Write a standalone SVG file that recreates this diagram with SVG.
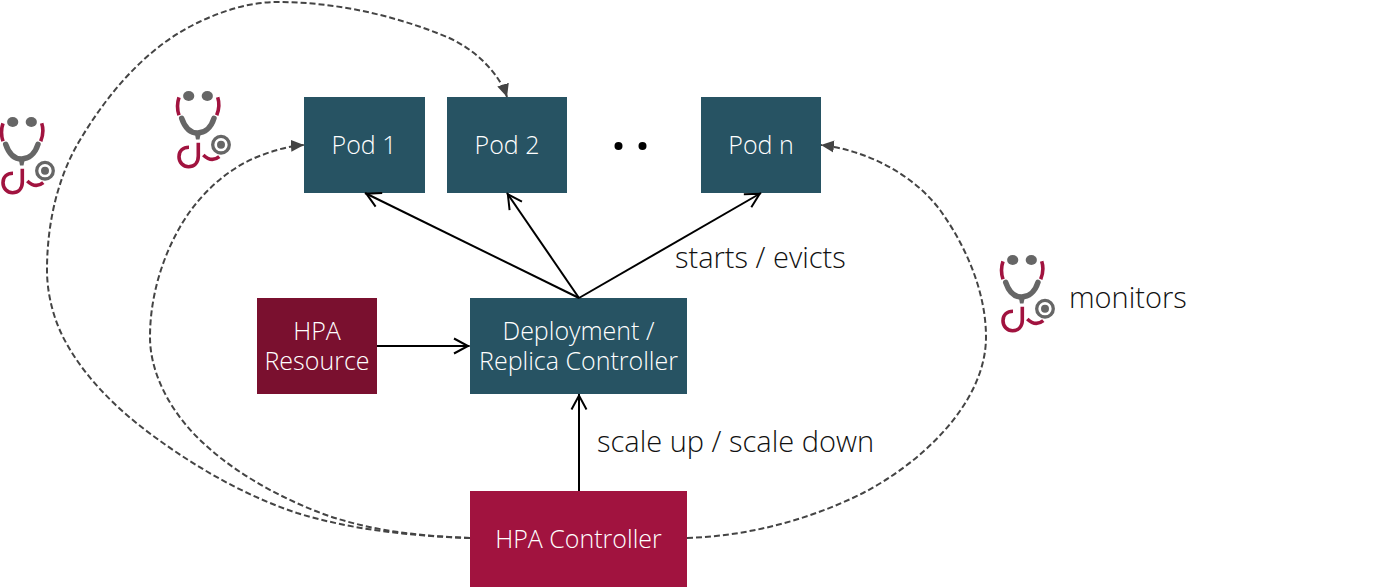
<svg xmlns="http://www.w3.org/2000/svg" width="1383" height="587" viewBox="0 0 1383 587">
<style>
.box text{font-family:"Open Sans","Noto Sans",sans-serif;font-weight:300;font-size:25px;fill:#fff;text-anchor:middle}
.teal{fill:#275363}
.lbl{font-family:"Open Sans","Noto Sans",sans-serif;font-weight:300;font-size:29px;fill:#111}
.dash{fill:none;stroke:#444;stroke-width:2;stroke-dasharray:6 3}
.sol{fill:none;stroke:#000;stroke-width:2}
.r{fill:none;stroke:#a1133f;stroke-width:3.600}
.g{fill:none;stroke:#666}
</style>
<defs>
<marker id="tri" markerUnits="userSpaceOnUse" markerWidth="14" markerHeight="14" refX="13" refY="7" orient="auto"><path d="M0 1L13 7L0 13Z" fill="#444"/></marker>
<marker id="open" markerUnits="userSpaceOnUse" markerWidth="20" markerHeight="20" refX="17.500" refY="10" orient="auto"><path d="M2 2.500L16 10L2 17.500" fill="none" stroke="#000" stroke-width="2"/></marker>
<g id="steth">
<ellipse cx="12.700" cy="4" rx="5.600" ry="5" fill="#666"/><ellipse cx="31.300" cy="4" rx="5.600" ry="5" fill="#666"/>
<path class="r" d="M3 5.300Q0 14 3 23.300M41.700 5.300Q44.500 14 40.700 23.300"/>
<path class="g" stroke-width="5.500" stroke-linecap="round" d="M5.700 26.300C9 36 15 41 21.700 41C28.500 41 35 36 38 26.300"/>
<path d="M18.300 39H25.300L23.500 47.500H20Z" fill="#666"/>
<path class="r" d="M22.300 50.700V64C22.300 71 18 74.700 12.500 74.700C7 74.700 3 70 3 64.700C3 59 7 55.300 13 55.300"/>
<path class="r" d="M27.300 63Q35.500 71 43.300 64.700"/>
<circle cx="45" cy="52.700" r="8.300" fill="none" stroke="#666" stroke-width="3.300"/><circle cx="45" cy="52.700" r="4" fill="#666"/>
</g>
</defs>
<g id="icon-1"><use href="#steth" x="0" y="118"/></g>
<g id="icon-2"><use href="#steth" x="176" y="92"/></g>
<g id="icon-3"><use href="#steth" x="1000" y="256"/></g>
<g id="pod-1" class="box"><rect class="teal" x="304" y="97" width="121" height="96"/><text x="364" y="154">Pod 1</text></g>
<g id="pod-2" class="box"><rect class="teal" x="447" y="97" width="120" height="96"/><text x="507" y="154">Pod 2</text></g>
<g id="pod-n" class="box"><rect class="teal" x="701" y="97" width="120" height="96"/><text x="761" y="154">Pod n</text></g>
<g id="hpa-resource" class="box"><rect x="257" y="298" width="120" height="96" fill="#7a102f"/><text x="317" y="340">HPA<tspan x="317" dy="30">Resource</tspan></text></g>
<g id="deployment" class="box"><rect class="teal" x="470" y="298" width="217" height="96"/><text x="578.500" y="340">Deployment /<tspan x="578.500" dy="30">Replica Controller</tspan></text></g>
<g id="hpa-controller" class="box"><rect x="470" y="491" width="217" height="96" fill="#a1133f"/><text x="578.500" y="548">HPA Controller</text></g>
<g id="connectors">
<path class="sol" marker-end="url(#open)" d="M579 298L365 193"/>
<path class="sol" marker-end="url(#open)" d="M579 298L507 193"/>
<path class="sol" marker-end="url(#open)" d="M579 298L761 193"/>
<path class="sol" marker-end="url(#open)" d="M377 346H469.500"/>
<path class="sol" marker-end="url(#open)" d="M579 491V394"/>
<path class="dash" marker-end="url(#tri)" d="M470 538C412 536 352 530 297 513C249 497 204 472 163 443C123 415 85 380 63 337C53 317 47 293 47 270C47 225 57 178 80 140C108 93 147 47 197 23C222 11 249 2 277 2C335 2 394 15 447 37C473 48 499 72 507 97"/>
<path class="dash" marker-end="url(#tri)" d="M470 538C417 536 362 530 313 510C271 493 229 469 197 437C171 411 150 374 150 337C150 299 161 260 180 227C197 197 225 170 257 157C272 151 288 146 304 145"/>
<path class="dash" marker-end="url(#tri)" d="M687 538C748 536 809 520 863 493C921 463 986 403 986 337C986 292 966 246 940 210C913 174 866 150 821 145"/>
</g>
<circle cx="618.500" cy="146" r="4" fill="#000"/><circle cx="642.500" cy="146" r="4" fill="#000"/>
<text class="lbl" x="675" y="268">starts / evicts</text>
<text class="lbl" x="1069" y="308">monitors</text>
<text class="lbl" x="597" y="452">scale up / scale down</text>
</svg>
